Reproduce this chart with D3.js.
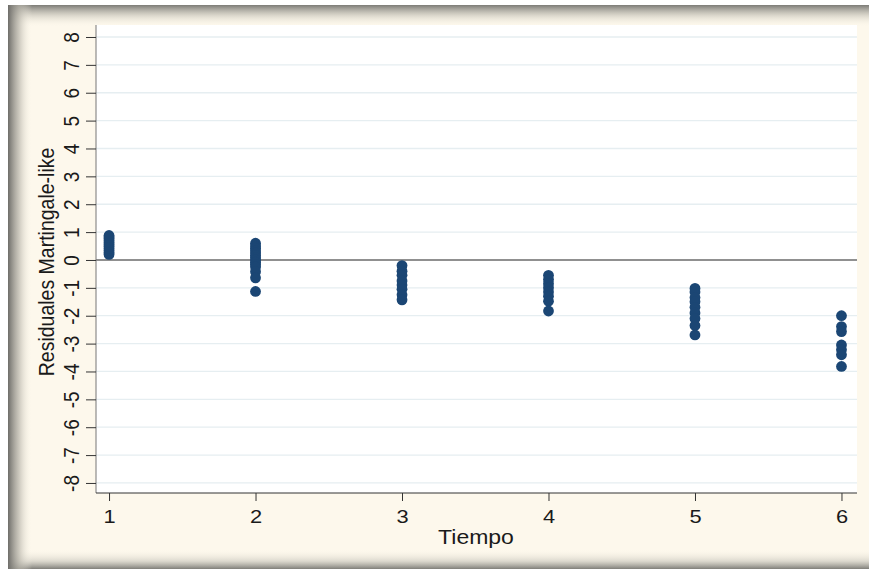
<!DOCTYPE html>
<html>
<head>
<meta charset="utf-8">
<script src="https://cdn.jsdelivr.net/npm/d3@7"></script>
<style>
  html, body { margin: 0; padding: 0; background: #fff; }
  svg { display: block; font-family: "Liberation Sans", Arial, sans-serif; }
</style>
</head>
<body>
<svg id="chart" width="869" height="569"></svg>
<script>
// residuals per time point
const times = [1, 2, 3, 4, 5, 6];
const res1 = [0.2, 0.27, 0.34, 0.41, 0.48, 0.55, 0.62, 0.69, 0.76, 0.82, 0.88];
const res2 = [0.6, 0.5, 0.42, 0.33, 0.25, 0.16, 0.08, 0.0, -0.08, -0.16, -0.25, -0.42, -0.64, -1.13];
const res3 = [-0.2, -0.4, -0.55, -0.75, -0.9, -1.05, -1.25, -1.43];
const res4 = [-0.55, -0.7, -0.85, -1.0, -1.15, -1.3, -1.48, -1.83];
const res5 = [-1.02, -1.15, -1.35, -1.5, -1.7, -1.9, -2.1, -2.35, -2.69];
const res6 = [-2.0, -2.39, -2.57, -3.05, -3.22, -3.4, -3.82];
const yTicks = d3.range(-8, 9);

const series = [res1, res2, res3, res4, res5, res6];
const points = [];
series.forEach((vals, i) => vals.forEach(v => points.push({t: times[i], v: v})));

const svg = d3.select("#chart");
const defs = svg.append("defs");
const font = "Liberation Sans, Arial, sans-serif";
const sx = 1.15; // source image is a bit stretched horizontally

// frame with shadows
function grad(id, x1, y1, x2, y2, stops) {
    let g = defs.append("linearGradient").attr("id", id)
        .attr("x1", x1).attr("y1", y1).attr("x2", x2).attr("y2", y2);
    stops.forEach(s => g.append("stop").attr("offset", s[0]).attr("stop-color", s[1]).attr("stop-opacity", s[2]));
}
grad("gTop", 0, 0, 0, 1, [[0, "#7c7b76", 1], [0.5, "#c9c6bb", 0.6], [1, "#fdf8ec", 0]]);
grad("gLeft", 0, 0, 1, 0, [[0, "#6e6d69", 1], [0.45, "#b5b2a8", 0.7], [1, "#fdf8ec", 0]]);
grad("gBottom", 0, 0, 0, 1, [[0, "#fdf8ec", 0], [0.6, "#cfccc2", 0.7], [1, "#7f7e79", 1]]);

svg.append("rect").attr("x", 8).attr("y", 5).attr("width", 861).attr("height", 564).attr("fill", "#fdf8ec");
svg.append("rect").attr("x", 8).attr("y", 5).attr("width", 861).attr("height", 22).attr("fill", "url(#gTop)");
svg.append("rect").attr("x", 8).attr("y", 549).attr("width", 861).attr("height", 20).attr("fill", "url(#gBottom)");
svg.append("rect").attr("x", 8).attr("y", 5).attr("width", 24).attr("height", 564).attr("fill", "url(#gLeft)");

const pl = 96, pr = 857, pt = 25, pb = 493;
const x = d3.scaleLinear().domain([0.911, 6.106]).range([pl, pr]);
const y = d3.scaleLinear().domain([-8.36, 8.43]).range([pb, pt]);

// plot area
svg.append("rect").attr("x", pl).attr("y", pt).attr("width", pr - pl).attr("height", pb - pt).attr("fill", "#fff");

// grid
svg.append("g").selectAll("line").data(yTicks.filter(d => d !== 0)).join("line")
    .attr("x1", pl).attr("x2", pr)
    .attr("y1", d => y(d)).attr("y2", d => y(d))
    .attr("stroke", "#e6eef1").attr("stroke-width", 1.3);

// zero line
svg.append("line").attr("x1", pl).attr("x2", pr).attr("y1", y(0)).attr("y2", y(0))
    .attr("stroke", "#222").attr("stroke-width", 1.2);

// axes
const yAxis = svg.append("g").attr("transform", `translate(${pl},0)`)
    .call(d3.axisLeft(y).tickValues(yTicks).tickSize(10).tickSizeOuter(0).tickFormat(d => String(d)));
yAxis.select(".domain").attr("stroke", "#777").attr("d", `M0,${pt}V${pb}`);
yAxis.selectAll(".tick line").attr("stroke", "#333");
yAxis.selectAll(".tick text")
    .attr("transform", `translate(-25,0) scale(${sx},1) rotate(-90)`)
    .attr("x", 0).attr("dy", "0.35em").attr("text-anchor", "middle")
    .attr("font-size", 19).attr("fill", "#1a1a1a").attr("font-family", font);

const xAxis = svg.append("g").attr("transform", `translate(0,${pb})`)
    .call(d3.axisBottom(x).tickValues(times).tickSize(8).tickPadding(9).tickSizeOuter(0).tickFormat(d => String(d)));
xAxis.select(".domain").attr("stroke", "#333").attr("d", `M${pl},0H${pr}`);
xAxis.selectAll(".tick line").attr("stroke", "#333");
xAxis.selectAll(".tick text")
    .attr("transform", `scale(${sx},1)`)
    .attr("font-size", 19).attr("fill", "#1a1a1a").attr("font-family", font);

// titles
svg.append("text").attr("transform", `translate(476,544) scale(${sx},1)`).attr("text-anchor", "middle")
    .attr("font-family", font).attr("font-size", 20).attr("fill", "#1a1a1a").text("Tiempo");
svg.append("text").attr("transform", `translate(46,${y(0) + 2}) scale(${sx},1) rotate(-90)`)
    .attr("text-anchor", "middle").attr("dy", "0.35em")
    .attr("font-family", font).attr("font-size", 19.5).attr("fill", "#1a1a1a").text("Residuales Martingale-like");

// points
svg.append("g").selectAll("circle").data(points).join("circle")
    .attr("cx", d => x(d.t)).attr("cy", d => y(d.v)).attr("r", 5.4)
    .attr("fill", "#1b4674");
</script>
</body>
</html>
